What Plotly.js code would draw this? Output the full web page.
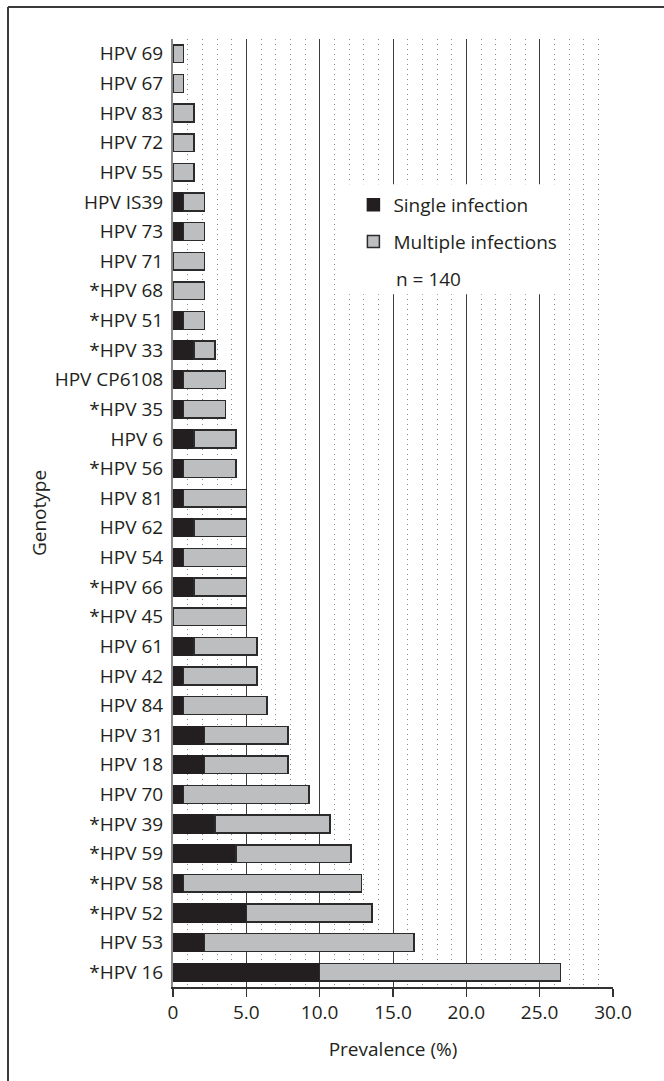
<!DOCTYPE html>
<html>
<head>
<meta charset="utf-8">
<script src="https://cdn.plot.ly/plotly-3.0.1.min.js"></script>
<style>
html,body{margin:0;padding:0;background:#fff;}
#chart{width:664px;height:1081px;}
</style>
</head>
<body>
<div id="chart"></div>
<script>
// Categories, top to bottom
const genotypes = [
  "HPV 69","HPV 67","HPV 83","HPV 72","HPV 55","HPV IS39","HPV 73","HPV 71",
  "*HPV 68","*HPV 51","*HPV 33","HPV CP6108","*HPV 35","HPV 6","*HPV 56","HPV 81",
  "HPV 62","HPV 54","*HPV 66","*HPV 45","HPV 61","HPV 42","HPV 84","HPV 31",
  "HPV 18","HPV 70","*HPV 39","*HPV 59","*HPV 58","*HPV 52","HPV 53","*HPV 16"
];
// Prevalence (%) of single infection
const singleInfection = [
  0, 0, 0, 0, 0, 0.71, 0.71, 0,
  0, 0.71, 1.43, 0.71, 0.71, 1.43, 0.71, 0.71,
  1.43, 0.71, 1.43, 0, 1.43, 0.71, 0.71, 2.14,
  2.14, 0.71, 2.86, 4.29, 0.71, 5.00, 2.14, 10.00
];
// Prevalence (%) of multiple infections
const multipleInfections = [
  0.71, 0.71, 1.43, 1.43, 1.43, 1.43, 1.43, 2.14,
  2.14, 1.43, 1.43, 2.86, 2.86, 2.86, 3.57, 4.29,
  3.57, 4.29, 3.57, 5.00, 4.29, 5.00, 5.71, 5.71,
  5.71, 8.57, 7.86, 7.86, 12.14, 8.57, 14.29, 16.43
];
const xTickVals = [0, 5, 10, 15, 20, 25, 30];
const xTickText = ["0", "5.0", "10.0", "15.0", "20.0", "25.0", "30.0"];
const sampleNote = "n = 140";

const FONT = "'Open Sans', 'Noto Sans', sans-serif";
const TXT = "#231f20";
const FS = 19;

const traces = [
  {
    type: "bar", orientation: "h", name: "Single infection",
    y: genotypes, x: singleInfection,
    marker: {color: "#231f20", line: {color: "#231f20", width: 1.5}},
    legendgroup: "a", hoverinfo: "x+y"
  },
  {
    type: "bar", orientation: "h", name: "Multiple infections",
    y: genotypes, x: multipleInfections,
    marker: {color: "#bcbec0", line: {color: "#2b2b2b", width: 1.5}},
    legendgroup: "b", hoverinfo: "x+y"
  }
];

const layout = {
  width: 664, height: 1081,
  margin: {l: 173, r: 51, t: 39, b: 94, pad: 0},
  paper_bgcolor: "#fff", plot_bgcolor: "#fff",
  font: {family: FONT, color: TXT, size: FS},
  barmode: "stack", bargap: 0.4,
  showlegend: true,
  legend: {
    x: 0.41, xanchor: "left", y: 0.845, yanchor: "top",
    bgcolor: "rgba(0,0,0,0)", borderwidth: 0,
    font: {family: FONT, size: FS, color: TXT},
    traceorder: "grouped", tracegroupgap: 9
  },
  xaxis: {
    range: [0, 30], fixedrange: true,
    tickmode: "array", tickvals: xTickVals, ticktext: xTickText,
    ticks: "outside", ticklen: 8, tickwidth: 1.5, tickcolor: "#333",
    showline: true, linecolor: "#333", linewidth: 1.5,
    showgrid: true, gridcolor: "#3c3c3c", gridwidth: 1,
    zeroline: false,
    minor: {dtick: 1, tick0: 0, showgrid: true, gridcolor: "#888", gridwidth: 1, griddash: "1px,4px", ticks: ""},
    tickfont: {family: FONT, size: FS, color: TXT},
    title: {text: "Prevalence (%)", font: {family: FONT, size: FS, color: TXT}, standoff: 18}
  },
  yaxis: {
    type: "category", autorange: "reversed", fixedrange: true,
    showline: true, linecolor: "#888", linewidth: 2,
    showgrid: false, zeroline: false, ticks: "",
    ticklabelstandoff: 4,
    tickfont: {family: FONT, size: FS, color: TXT},
    title: {text: "Genotype", font: {family: FONT, size: FS, color: TXT}, standoff: 3}
  },
  shapes: [
    // white legend box
    {type: "rect", xref: "paper", yref: "paper", x0: 0.3795, x1: 0.891, y0: 0.7307, y1: 0.8469,
     fillcolor: "#fff", line: {width: 0}, layer: "above"},
    // figure frame (top and left)
    {type: "line", xref: "paper", yref: "paper", x0: -0.375, x1: 1.2, y0: 1.0338, y1: 1.0338,
     line: {color: "#3a3a3a", width: 2}},
    {type: "line", xref: "paper", yref: "paper", x0: -0.375, x1: -0.375, y0: -0.2, y1: 1.0338,
     line: {color: "#3a3a3a", width: 2}}
  ],
  annotations: [
    {text: sampleNote, xref: "paper", yref: "paper", x: 0.5023, y: 0.7466,
     xanchor: "left", yanchor: "middle", showarrow: false,
     font: {family: FONT, size: FS, color: TXT}}
  ]
};

Plotly.newPlot("chart", traces, layout, {displayModeBar: false, staticPlot: true});
</script>
</body>
</html>
